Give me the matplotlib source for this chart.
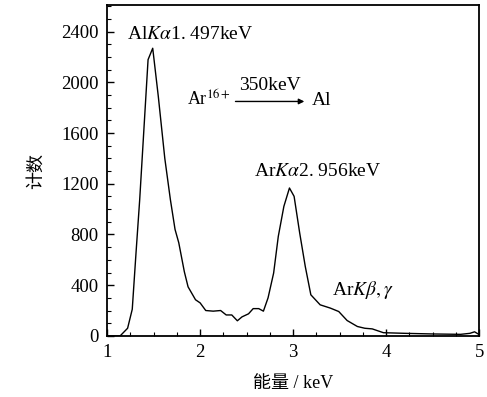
import matplotlib.pyplot as plt
from matplotlib.ticker import MultipleLocator

plt.rcParams['font.family'] = ['Liberation Serif', 'Noto Sans CJK SC']
plt.rcParams['mathtext.fontset'] = 'stix'

# spectrum
energy = [1.0, 1.14, 1.22, 1.27, 1.31, 1.35, 1.44, 1.49, 1.55, 1.62, 1.68, 1.73,
          1.77, 1.83, 1.87, 1.95, 2.0, 2.06, 2.14, 2.22, 2.28, 2.34, 2.40, 2.45,
          2.52, 2.57, 2.63, 2.68, 2.73, 2.79, 2.84, 2.90, 2.96, 3.01, 3.07, 3.13,
          3.19, 3.29, 3.40, 3.49, 3.58, 3.69, 3.77, 3.85, 3.97, 4.2, 4.5, 4.8,
          4.9, 4.95, 5.0]
counts = [0, 0, 60, 210, 650, 1075, 2180, 2270, 1890, 1400, 1075, 840,
          735, 506, 387, 285, 260, 200, 195, 200, 165, 165, 119, 150,
          174, 215, 215, 195, 300, 496, 785, 1022, 1167, 1101, 812, 548,
          324, 245, 219, 192, 121, 74, 60, 55, 25, 20, 15, 12,
          20, 32, 10]

fig = plt.figure(figsize=(4.87, 3.97), dpi=100)
ax = fig.add_axes([0.22, 0.154, 0.764, 0.833])
ax.plot(energy, counts, color='black', lw=1.0)

ax.set_xlim(1, 5)
ax.set_ylim(0, 2610)
ax.xaxis.set_major_locator(MultipleLocator(1))
ax.xaxis.set_minor_locator(MultipleLocator(0.25))
ax.yaxis.set_major_locator(MultipleLocator(400))
ax.yaxis.set_minor_locator(MultipleLocator(100))
ax.tick_params(which='both', direction='in', top=False, right=False, labelsize=13.5)
ax.tick_params(which='major', length=5, width=1)
ax.tick_params(which='minor', length=3, width=0.8)
ax.tick_params(axis='y', pad=6)
ax.tick_params(axis='x', pad=6)
for s in ax.spines.values():
    s.set_linewidth(1.3)

ax.set_xlabel('能量 / keV', fontsize=13, labelpad=10)
ax.set_ylabel('计数', fontsize=13, labelpad=12)

fs = 14
ax.text(1.89, 2380, r'Al$K\alpha$1. 497keV', fontsize=fs, ha='center', va='center')
ax.text(3.26, 1296, r'Ar$K\alpha$2. 956keV', fontsize=fs, ha='center', va='center')
ax.text(3.75, 364, r'Ar$K\beta,\gamma$', fontsize=fs, ha='center', va='center')
ax.text(2.33, 1860, r'Ar$^{16+}$', fontsize=13, ha='right', va='center')
ax.text(2.75, 1975, '350keV', fontsize=fs, ha='center', va='center')
ax.text(3.2, 1860, 'Al', fontsize=fs, ha='left', va='center')
ax.annotate('', xy=(3.15, 1850), xytext=(2.35, 1850),
            arrowprops=dict(arrowstyle='-|>', color='black', lw=1, mutation_scale=8))

fig.savefig('out.png', dpi=100)
